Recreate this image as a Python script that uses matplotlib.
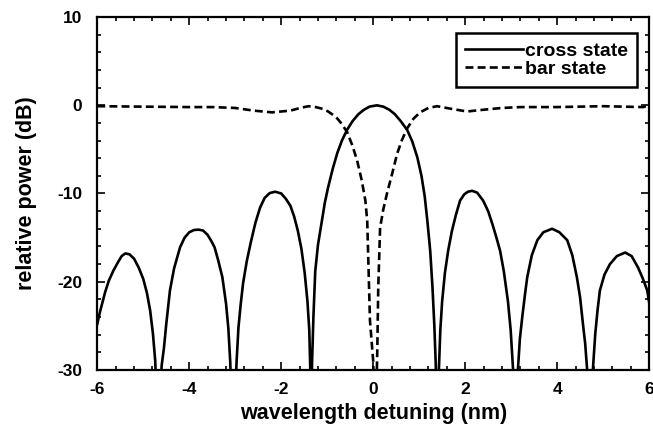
import matplotlib
matplotlib.use("Agg")
import matplotlib.pyplot as plt
from matplotlib.ticker import MultipleLocator

# ---- data ----
cross_x = [-6.0, -5.95, -5.9, -5.83, -5.75, -5.65, -5.55, -5.47, -5.39, -5.3, -5.2, -5.1, -5.0,
           -4.92, -4.85, -4.79, -4.74, -4.7, -4.68,
           -4.66, -4.6, -4.55, -4.5, -4.42, -4.33, -4.2, -4.1, -4.0, -3.9, -3.8, -3.7, -3.6,
           -3.52, -3.45, -3.37, -3.28, -3.2, -3.15, -3.11, -3.07, -3.05,
           -3.02, -2.97, -2.93, -2.88, -2.83, -2.75, -2.66, -2.56, -2.46, -2.36, -2.25, -2.13,
           -2.0, -1.9, -1.8, -1.72, -1.64, -1.56, -1.49, -1.43, -1.39, -1.37, -1.36,
           -1.34, -1.33, -1.3, -1.26, -1.2, -1.12, -1.05, -0.98, -0.88, -0.78, -0.68, -0.57,
           -0.45, -0.32, -0.2, -0.08, 0.08, 0.22, 0.35, 0.47, 0.6, 0.74, 0.85, 0.96, 1.05,
           1.12, 1.18, 1.24, 1.29, 1.33, 1.36, 1.38, 1.4,
           1.42, 1.43, 1.46, 1.5, 1.56, 1.63, 1.71, 1.8, 1.89, 1.98, 2.06, 2.15, 2.26, 2.39,
           2.5, 2.6, 2.68, 2.76, 2.84, 2.93, 2.99, 3.04, 3.07, 3.08,
           3.11, 3.15, 3.19, 3.24, 3.3, 3.35, 3.45, 3.57, 3.7, 3.89, 4.05, 4.22, 4.33, 4.43,
           4.5, 4.57, 4.61, 4.65, 4.68, 4.71,
           4.75, 4.78, 4.83, 4.88, 4.93, 5.03, 5.15, 5.3, 5.48, 5.62, 5.76, 5.86, 5.96, 6.0]
cross_y = [-24.8, -23.6, -22.6, -21.2, -19.9, -18.75, -17.8, -17.1, -16.8, -16.9, -17.4, -18.4, -19.7,
           -21.3, -23.3, -25.9, -29.0, -35, -45,
           -35, -29.5, -27.5, -24.8, -21.0, -18.5, -16.1, -15.0, -14.4, -14.15, -14.1, -14.2, -14.7,
           -15.4, -16.1, -17.6, -19.5, -22.5, -25.3, -29.0, -35, -45,
           -35, -29.0, -25.2, -22.5, -20.2, -17.7, -15.5, -13.3, -11.6, -10.5, -9.95, -9.8,
           -10.0, -10.6, -11.4, -12.6, -14.2, -16.3, -19.0, -22.2, -25.5, -29.5, -45,
           -35, -29.3, -24.0, -18.8, -15.8, -13.2, -11.0, -9.3, -7.2, -5.4, -4.0, -2.8,
           -1.8, -1.0, -0.5, -0.15, 0.0, -0.15, -0.5, -1.0, -1.8, -2.8, -4.1, -5.9, -8.0,
           -10.3, -13.2, -16.5, -20.7, -25.0, -29.3, -35, -45,
           -35, -29.8, -25.5, -22.2, -19.0, -16.5, -14.3, -12.4, -10.8, -10.1, -9.8, -9.7, -9.9, -10.8,
           -12.0, -13.6, -15.0, -16.5, -18.8, -22.2, -25.5, -29.8, -35, -45,
           -35, -29.8, -26.5, -24.1, -21.5, -19.5, -17.0, -15.3, -14.4, -14.0, -14.4, -15.3, -17.0, -19.5,
           -21.8, -25.2, -27.0, -29.8, -35, -45,
           -35, -29.8, -25.9, -23.2, -21.0, -19.2, -18.0, -17.1, -16.7, -17.1, -18.4, -19.6, -21.0, -22.3]

bar_x = [-6.0, -5.0, -4.0, -3.5, -3.0, -2.6, -2.2, -1.8, -1.55, -1.4, -1.25, -1.1, -0.98, -0.87, -0.78, -0.7,
         -0.57, -0.45, -0.35, -0.25, -0.17, -0.13, -0.11, -0.07, 0.0, 0.04, 0.09, 0.11,
         0.15, 0.22, 0.3, 0.42, 0.52, 0.62, 0.74, 0.88, 1.02, 1.2, 1.39, 1.7, 2.04, 2.4,
         2.8, 3.2, 4.0, 5.0, 5.87, 6.0]
bar_y = [-0.1, -0.15, -0.2, -0.2, -0.3, -0.6, -0.8, -0.6, -0.25, -0.1, -0.2, -0.4, -0.7, -1.1, -1.5, -2.0,
         -3.0, -4.6, -6.25, -8.5, -10.8, -13.1, -16.8, -24.4, -29.0, -40, -27.5, -20.7,
         -13.9, -11.8, -10.0, -7.6, -5.5, -4.0, -2.6, -1.5, -0.8, -0.3, -0.1, -0.4, -0.7, -0.5,
         -0.3, -0.2, -0.2, -0.1, -0.2, 0.0]

xticks = [-6, -4, -2, 0, 2, 4, 6]
yticks = [-30, -20, -10, 0, 10]

plt.rcParams['font.family'] = ['Liberation Sans', 'DejaVu Sans']

fig = plt.figure(figsize=(6.53, 4.29), dpi=100)
ax = fig.add_axes([0.149, 0.138, 0.845, 0.822])

ax.plot(cross_x, cross_y, color='black', lw=1.9, label='cross state', solid_joinstyle='round')
ax.plot(bar_x, bar_y, color='black', lw=1.9, ls=(0, (3.0, 1.6)), label='bar state')

ax.set_xlim(-6, 6)
ax.set_ylim(-30, 10)
ax.set_xticks(xticks)
ax.set_yticks(yticks)
ax.set_xticklabels([str(t) for t in xticks], fontweight='bold', fontsize=12.5)
ax.set_yticklabels([str(t) for t in yticks], fontweight='bold', fontsize=12.5)
ax.xaxis.set_minor_locator(MultipleLocator(0.4))
ax.yaxis.set_minor_locator(MultipleLocator(2))
ax.tick_params(which='both', direction='in', top=True, right=True, width=1.2)
ax.tick_params(which='major', length=6)
ax.tick_params(axis='x', which='major', pad=9)
ax.tick_params(axis='y', which='major', pad=11)
ax.tick_params(which='minor', length=3)
for s in ax.spines.values():
    s.set_linewidth(1.6)

ax.set_xlabel('wavelength detuning (nm)', fontsize=15.5, fontweight='bold', labelpad=4)
ax.set_ylabel('relative power (dB)', fontsize=15.5, fontweight='bold', labelpad=14)

leg = ax.legend(loc='upper right', bbox_to_anchor=(0.995, 0.982), fancybox=False,
                framealpha=1, edgecolor='black', fontsize=14, handlelength=3.0,
                handletextpad=0.1, borderpad=0.45, labelspacing=0.05)
leg.get_frame().set_linewidth(1.8)
for t in leg.get_texts():
    t.set_fontweight('bold')

fig.savefig('out.png', dpi=100)
